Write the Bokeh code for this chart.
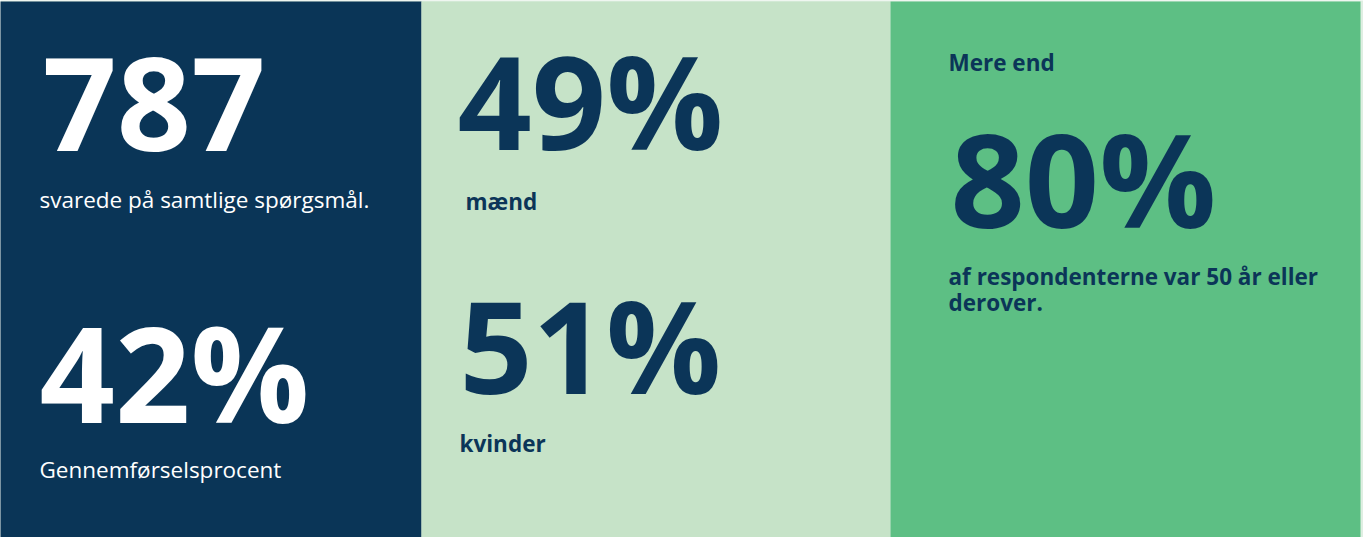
from bokeh.plotting import figure
from bokeh.models import Range1d
from bokeh.core.properties import value
from bokeh.embed import file_html
from bokeh.resources import INLINE

# ---- data ----
big_numbers = ["787", "42%", "49%", "51%", "80%"]
big_colors = ["#ffffff", "#ffffff", "#0b3558", "#0b3558", "#0b3558"]
captions_regular = ["svarede på samtlige spørgsmål.", "Gennemførselsprocent"]
captions_bold = ["mænd", "kvinder", "Mere end", "af respondenterne var 50 år eller", "derover."]
panel_colors = ["#0a3557", "#c6e3c8", "#5dbf84"]

# ---- layout (figure pixel coords, y down) ----
W, H = 1363, 537
panel_left = [-2, 421, 890]
panel_right = [421, 890, 1360]
big_x = [42, 39, 457, 459, 950]
big_y = [104, 371, 99, 344, 177]
big_size = ["130px", "132px", "130px", "128px", "130px"]
reg_x = [39, 39]
reg_y = [199, 468.5]
bold_x = [465, 459, 948, 948, 948]
bold_y = [200.5, 442.5, 61.5, 275.5, 301.5]

p = figure(width=W, height=H, x_range=Range1d(0, W), y_range=Range1d(H, 0),
           output_backend="svg", toolbar_location=None, min_border=0)
p.axis.visible = False
p.grid.visible = False
p.outline_line_color = None
p.background_fill_color = "#dfeee2"
p.border_fill_color = "#dfeee2"

p.quad(left=panel_left, right=panel_right, top=[1] * 3, bottom=[H + 2] * 3,
       fill_color=panel_colors, line_color=None)

p.text(x=big_x, y=big_y, text=big_numbers, text_color=big_colors,
       text_font=value("Open Sans"), text_font_style="bold",
       text_font_size=big_size, text_baseline="alphabetic", text_align="left")

p.text(x=reg_x, y=reg_y, text=captions_regular, text_color="#ffffff",
       text_font=value("Open Sans"), text_font_size="22.5px",
       text_baseline="alphabetic", text_align="left")

p.text(x=bold_x, y=bold_y, text=captions_bold, text_color="#0b3558",
       text_font=value("Open Sans"), text_font_style="bold",
       text_font_size="22.5px", text_baseline="alphabetic", text_align="left")

html = file_html(p, INLINE)
html = html.replace("<body>", '<body style="background:#dfeee2;">', 1)
open("out.html", "w").write(html)
